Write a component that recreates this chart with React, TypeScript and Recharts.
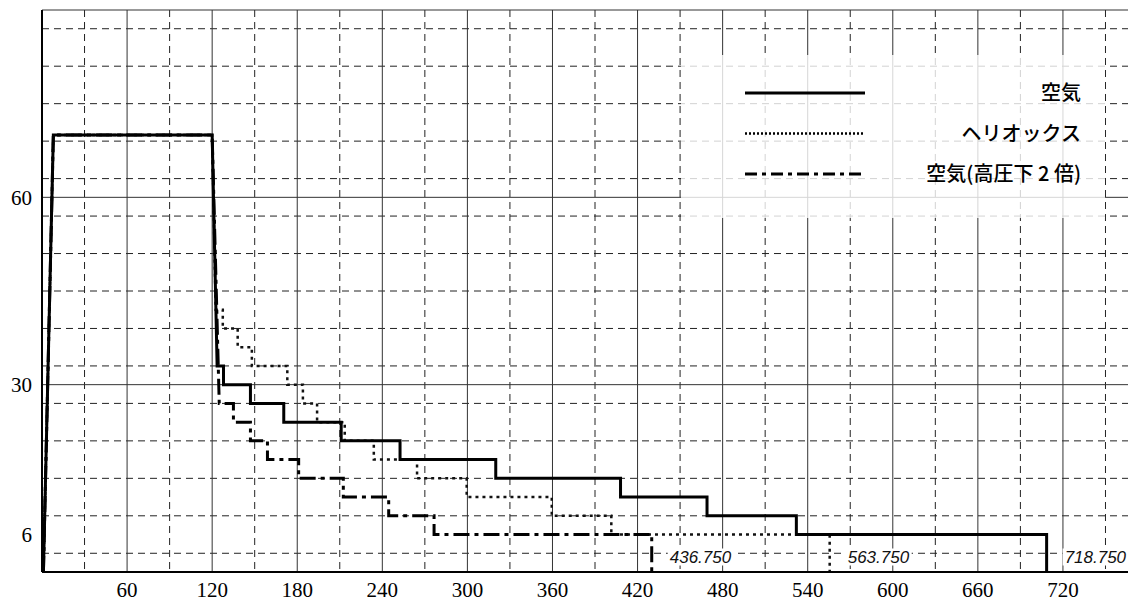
import { CartesianGrid, Line, LineChart, XAxis, YAxis } from 'recharts'

// dive profile: time (min) vs depth (m)
const xTicks = [60, 120, 180, 240, 300, 360, 420, 480, 540, 600, 660, 720]
const yTicks = [6, 30, 60]

const descentStart = 1
const bottomReach = 8
const bottomDepth = 70
const bottomEnd = 120

// 空気
const airArrive = 123.5
const airStopDepths = [33, 30, 27, 24, 21, 18, 15, 12, 9, 6]
const airStopEnds = [128, 147, 170.5, 211, 252.5, 320, 408, 469, 532, 708.5]

// ヘリオックス
const helioxArrive = 122.5
const helioxStopDepths = [42, 39, 36, 33, 30, 27, 24, 21, 18, 15, 12, 9, 6]
const helioxStopEnds = [127.5, 138, 148, 173, 184, 194, 213.5, 234, 264.5, 299.5, 359.5, 401.5, 555.5]

// 空気(高圧下 2 倍)
const air2xArrive = 125
const air2xStopDepths = [27, 24, 21, 18, 15, 12, 9, 6]
const air2xStopEnds = [135, 147, 159, 181, 212.5, 244.5, 276.5, 430]

const totals = ['718.750', '563.750', '436.750']
const seriesNames = ['空気', 'ヘリオックス', '空気(高圧下 2 倍)']

const W = 1128
const H = 595
const X_MAX = 768
const Y_MAX = 90

const dashedY = Array.from({ length: 29 }, (_, i) => (i + 1) * 3).filter((v) => v % 30 !== 0)
const dashedX = Array.from({ length: 13 }, (_, i) => 30 + i * 60)
const solidY = [30, 60, Y_MAX]
const solidX = [...xTicks, X_MAX]

function buildProfile(arrive: number, depths: number[], ends: number[]) {
  const pts = [
    { t: descentStart, d: 0 },
    { t: bottomReach, d: bottomDepth },
    { t: bottomEnd, d: bottomDepth },
  ]
  let start = arrive
  depths.forEach((d, i) => {
    pts.push({ t: start, d })
    pts.push({ t: ends[i], d })
    start = ends[i]
  })
  pts.push({ t: start, d: 0 })
  return pts
}

const airData = buildProfile(airArrive, airStopDepths, airStopEnds)
const helioxData = buildProfile(helioxArrive, helioxStopDepths, helioxStopEnds)
const air2xData = buildProfile(air2xArrive, air2xStopDepths, air2xStopEnds)

const endLabel = (text: string, last: number) => (props: any) => {
  if (props.index !== last) return <g />
  const x = props.x + 18
  const y = props.y - 9.5
  return (
    <g>
      <rect x={x - 2} y={y - 14} width={66} height={17} fill="#fff" />
      <text
        x={x}
        y={y}
        fontFamily="Liberation Sans, Arial"
        fontStyle="italic"
        fontSize={17}
        fill="#111"
      >
        {text}
      </text>
    </g>
  )
}

function LegendBox() {
  const rows = [
    { name: seriesNames[0], dash: undefined, w: 3 },
    { name: seriesNames[1], dash: '2 2', w: 2.5 },
    { name: seriesNames[2], dash: '12 5 4 5', w: 3 },
  ]
  return (
    <div
      style={{
        position: 'absolute',
        left: 673,
        top: 47,
        width: 424,
        height: 163,
        background: 'rgba(255,255,255,0.8)',
      }}
    >
      <svg width={424} height={163}>
        {rows.map((r, i) => (
          <g key={r.name}>
            <line
              x1={64}
              x2={184}
              y1={38 + i * 40.5}
              y2={38 + i * 40.5}
              stroke="#000"
              strokeWidth={r.w}
              strokeDasharray={r.dash}
            />
            <text
              x={400}
              y={38 + i * 40.5}
              dy="0.35em"
              textAnchor="end"
              fontFamily="Noto Sans CJK JP"
              fontSize={20}
              fontWeight={500}
              fill="#000"
            >
              {r.name}
            </text>
          </g>
        ))}
      </svg>
    </div>
  )
}

export default function App() {
  const tickStyle = { fontFamily: 'Liberation Serif', fontSize: 21, fill: '#000' }
  return (
    <div style={{ position: 'relative', width: W, height: H }}>
      <LineChart width={W} height={H} margin={{ top: 2, right: 5, left: 0, bottom: 0 }}>
        <CartesianGrid
          horizontalValues={dashedY}
          verticalValues={dashedX}
          stroke="#222"
          strokeDasharray="7 5"
        />
        <CartesianGrid
          horizontalValues={solidY}
          verticalValues={solidX}
          stroke="#333"
        />
        <XAxis
          dataKey="t"
          type="number"
          domain={[0, X_MAX]}
          ticks={xTicks}
          tick={tickStyle}
          tickLine={false}
          tickSize={0}
          tickMargin={10}
          axisLine={{ stroke: '#000', strokeWidth: 2 }}
          height={31}
          allowDataOverflow
        />
        <YAxis
          type="number"
          domain={[0, Y_MAX]}
          ticks={yTicks}
          tick={tickStyle}
          tickLine={false}
          tickSize={0}
          tickMargin={10}
          axisLine={{ stroke: '#000', strokeWidth: 2 }}
          width={34}
          allowDataOverflow
        />
        <Line
          data={helioxData}
          dataKey="d"
          type="linear"
          stroke="#111"
          strokeWidth={2.5}
          strokeDasharray="3 4"
          dot={false}
          isAnimationActive={false}
          label={endLabel(totals[1], helioxData.length - 1)}
        />
        <Line
          data={air2xData}
          dataKey="d"
          type="linear"
          stroke="#000"
          strokeWidth={3}
          strokeDasharray="16 5 4 5"
          dot={false}
          isAnimationActive={false}
          label={endLabel(totals[2], air2xData.length - 1)}
        />
        <Line
          data={airData}
          dataKey="d"
          type="linear"
          stroke="#000"
          strokeWidth={3}
          dot={false}
          isAnimationActive={false}
          label={endLabel(totals[0], airData.length - 1)}
        />
      </LineChart>
      <LegendBox />
    </div>
  )
}
